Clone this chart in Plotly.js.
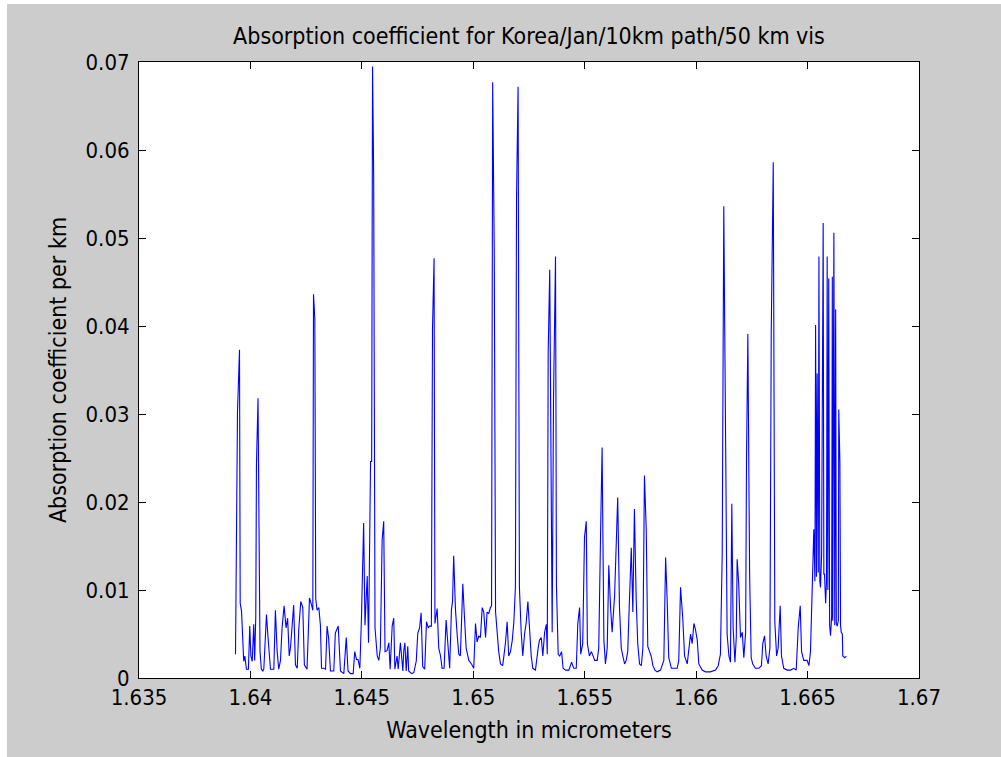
<!DOCTYPE html>
<html>
<head>
<meta charset="utf-8">
<script src="https://cdn.plot.ly/plotly-3.0.1.min.js"></script>
<style>
  html, body { margin: 0; padding: 0; background: #cccccc; width: 1001px; height: 757px; overflow: hidden; }
  #edgeLeft { position: absolute; left: 0; top: 0; width: 7px; height: 757px; background: #ffffff; }
  #edgeTop { position: absolute; left: 0; top: 0; width: 1001px; height: 4px; background: #ffffff; }
  #chart { position: absolute; left: 7px; top: 4px; width: 994px; height: 753px; }
</style>
</head>
<body>
<div id="edgeLeft"></div>
<div id="edgeTop"></div>
<div id="chart"></div>
<script>
// Wavelength (micrometers)
var wavelength = [
1.63933,1.63936,1.63942,1.63951,1.63954,1.63960,1.63964,1.63970,1.63975,1.63982,
1.63991,1.63997,1.64002,1.64008,1.64015,1.64019,1.64024,1.64027,1.64034,1.64038,
1.64043,1.64049,1.64056,1.64060,1.64072,1.64079,1.64090,1.64105,1.64112,1.64120,
1.64127,1.64135,1.64142,1.64151,1.64160,1.64167,1.64174,1.64180,1.64187,1.64194,
1.64202,1.64210,1.64217,1.64226,1.64235,1.64242,1.64254,1.64265,1.64274,1.64280,
1.64283,1.64289,1.64293,1.64299,1.64307,1.64314,1.64319,1.64329,1.64337,1.64344,
1.64351,1.64359,1.64374,1.64381,1.64394,1.64404,1.64419,1.64430,1.64438,1.64449,
1.64461,1.64468,1.64476,1.64483,1.64491,1.64498,1.64508,1.64514,1.64524,1.64530,
1.64539,1.64544,1.64548,1.64553,1.64559,1.64569,1.64576,1.64583,1.64591,1.64598,
1.64604,1.64613,1.64621,1.64627,1.64636,1.64643,1.64648,1.64658,1.64663,1.64673,
1.64684,1.64688,1.64693,1.64699,1.64706,1.64710,1.64723,1.64733,1.64744,1.64751,
1.64759,1.64766,1.64773,1.64782,1.64790,1.64798,1.64803,1.64812,1.64817,1.64824,
1.64828,1.64838,1.64845,1.64853,1.64860,1.64869,1.64878,1.64886,1.64894,1.64902,
1.64907,1.64912,1.64920,1.64928,1.64935,1.64942,1.64953,1.64960,1.64968,1.64980,
1.64992,1.65002,1.65010,1.65017,1.65025,1.65032,1.65040,1.65047,1.65055,1.65062,
1.65069,1.65077,1.65082,1.65087,1.65094,1.65100,1.65107,1.65114,1.65122,1.65132,
1.65144,1.65152,1.65159,1.65167,1.65175,1.65182,1.65189,1.65194,1.65201,1.65207,
1.65215,1.65222,1.65230,1.65237,1.65245,1.65252,1.65260,1.65267,1.65279,1.65291,
1.65297,1.65305,1.65312,1.65320,1.65328,1.65332,1.65336,1.65343,1.65351,1.65354,
1.65360,1.65369,1.65373,1.65381,1.65388,1.65396,1.65403,1.65414,1.65429,1.65441,
1.65451,1.65462,1.65469,1.65477,1.65482,1.65491,1.65499,1.65507,1.65512,1.65521,
1.65530,1.65538,1.65545,1.65556,1.65563,1.65571,1.65578,1.65586,1.65593,1.65601,
1.65608,1.65616,1.65623,1.65634,1.65641,1.65648,1.65656,1.65664,1.65671,1.65679,
1.65686,1.65693,1.65701,1.65709,1.65716,1.65723,1.65731,1.65738,1.65746,1.65754,
1.65761,1.65768,1.65776,1.65783,1.65791,1.65798,1.65806,1.65815,1.65825,1.65840,
1.65855,1.65863,1.65870,1.65877,1.65889,1.65900,1.65915,1.65922,1.65930,1.65940,
1.65948,1.65960,1.65967,1.65975,1.65982,1.65990,1.65997,1.66005,1.66012,1.66027,
1.66042,1.66064,1.66087,1.66099,1.66109,1.66117,1.66124,1.66132,1.66139,1.66147,
1.66154,1.66160,1.66166,1.66174,1.66180,1.66184,1.66191,1.66199,1.66207,1.66214,
1.66222,1.66226,1.66232,1.66240,1.66247,1.66254,1.66266,1.66281,1.66293,1.66299,
1.66307,1.66314,1.66323,1.66331,1.66337,1.66346,1.66353,1.66361,1.66368,1.66377,
1.66383,1.66393,1.66409,1.66424,1.66438,1.66449,1.66458,1.66467,1.66473,1.66483,
1.66498,1.66506,1.66513,1.66521,1.66528,1.66533,1.66536,1.66540,1.66543,1.66548,
1.66551,1.66555,1.66558,1.66563,1.66566,1.66570,1.66573,1.66576,1.66581,1.66585,
1.66588,1.66591,1.66595,1.66599,1.66603,1.66608,1.66611,1.66613,1.66618,1.66622,
1.66626,1.66629,1.66633,1.66638,1.66640,1.66645,1.66648,1.66651,1.66656,1.66658,
1.66667,1.66674
];
// Absorption coefficient (per km)
var absorption = [
0.0027,0.0096,0.0303,0.0373,0.0085,0.0076,0.0046,0.0019,0.0025,0.0010,
0.0010,0.0059,0.0025,0.0019,0.0061,0.0020,0.0070,0.0242,0.0318,0.0155,
0.0030,0.0010,0.0008,0.0010,0.0072,0.0046,0.0010,0.0010,0.0077,0.0030,
0.0010,0.0020,0.0057,0.0082,0.0057,0.0068,0.0025,0.0035,0.0060,0.0083,
0.0015,0.0011,0.0056,0.0087,0.0080,0.0015,0.0010,0.0091,0.0083,0.0077,
0.0436,0.0408,0.0090,0.0077,0.0080,0.0060,0.0011,0.0011,0.0010,0.0059,
0.0045,0.0008,0.0008,0.0051,0.0059,0.0008,0.0005,0.0046,0.0008,0.0005,
0.0005,0.0030,0.0021,0.0021,0.0011,0.0066,0.0176,0.0060,0.0116,0.0040,
0.0246,0.0246,0.0695,0.0572,0.0057,0.0025,0.0020,0.0034,0.0157,0.0178,
0.0030,0.0031,0.0040,0.0010,0.0059,0.0068,0.0010,0.0025,0.0010,0.0040,
0.0008,0.0031,0.0040,0.0008,0.0036,0.0008,0.0005,0.0006,0.0019,0.0051,
0.0057,0.0074,0.0013,0.0010,0.0064,0.0057,0.0059,0.0059,0.0397,0.0477,
0.0062,0.0079,0.0034,0.0025,0.0011,0.0011,0.0066,0.0040,0.0011,0.0078,
0.0087,0.0139,0.0078,0.0048,0.0027,0.0025,0.0107,0.0071,0.0034,0.0020,
0.0016,0.0011,0.0062,0.0041,0.0048,0.0046,0.0080,0.0075,0.0046,0.0075,
0.0073,0.0080,0.0082,0.0677,0.0488,0.0075,0.0052,0.0030,0.0016,0.0014,
0.0039,0.0064,0.0025,0.0030,0.0043,0.0064,0.0103,0.0545,0.0672,0.0103,
0.0052,0.0025,0.0050,0.0062,0.0087,0.0052,0.0025,0.0011,0.0009,0.0034,
0.0043,0.0046,0.0025,0.0052,0.0061,0.0027,0.0369,0.0464,0.0207,0.0052,
0.0317,0.0479,0.0107,0.0027,0.0025,0.0030,0.0011,0.0009,0.0009,0.0018,
0.0011,0.0011,0.0062,0.0080,0.0027,0.0039,0.0160,0.0178,0.0039,0.0025,
0.0030,0.0025,0.0020,0.0020,0.0034,0.0162,0.0262,0.0043,0.0016,0.0034,
0.0128,0.0080,0.0052,0.0093,0.0139,0.0205,0.0080,0.0034,0.0025,0.0016,
0.0020,0.0030,0.0091,0.0148,0.0075,0.0192,0.0089,0.0039,0.0016,0.0014,
0.0034,0.0230,0.0169,0.0036,0.0030,0.0025,0.0014,0.0009,0.0007,0.0009,
0.0020,0.0137,0.0089,0.0023,0.0011,0.0011,0.0011,0.0020,0.0103,0.0068,
0.0025,0.0016,0.0034,0.0050,0.0039,0.0062,0.0055,0.0043,0.0016,0.0009,
0.0007,0.0007,0.0009,0.0014,0.0027,0.0141,0.0536,0.0312,0.0050,0.0025,
0.0018,0.0198,0.0057,0.0018,0.0046,0.0135,0.0107,0.0046,0.0052,0.0023,
0.0052,0.0249,0.0391,0.0116,0.0023,0.0016,0.0011,0.0011,0.0014,0.0039,
0.0048,0.0025,0.0016,0.0034,0.0394,0.0586,0.0064,0.0025,0.0034,0.0082,
0.0025,0.0011,0.0009,0.0009,0.0011,0.0009,0.0057,0.0082,0.0030,0.0020,
0.0020,0.0014,0.0030,0.0103,0.0169,0.0110,0.0401,0.0115,0.0346,0.0120,
0.0479,0.0110,0.0103,0.0140,0.0360,0.0517,0.0118,0.0118,0.0085,0.0110,
0.0479,0.0100,0.0454,0.0060,0.0048,0.0070,0.0456,0.0065,0.0506,0.0060,
0.0419,0.0062,0.0059,0.0065,0.0305,0.0246,0.0060,0.0052,0.0050,0.0025,
0.0023,0.0025
];
var xTickVals = [1.635, 1.64, 1.645, 1.65, 1.655, 1.66, 1.665, 1.67];
var xTickLabels = ['1.635', '1.64', '1.645', '1.65', '1.655', '1.66', '1.665', '1.67'];
var yTickVals = [0, 0.01, 0.02, 0.03, 0.04, 0.05, 0.06, 0.07];
var yTickLabels = ['0', '0.01', '0.02', '0.03', '0.04', '0.05', '0.06', '0.07'];

var FONT = '"DejaVu Sans Condensed", "Liberation Sans", Arial, sans-serif';

var trace = {
  x: wavelength,
  y: absorption,
  type: 'scatter',
  mode: 'lines',
  line: { color: '#0000ff', width: 1.1 },
  hoverinfo: 'x+y'
};

var axisCommon = {
  showline: true, linecolor: '#000000', linewidth: 1, mirror: 'ticks',
  ticks: 'inside', ticklen: 7, tickcolor: '#000000', tickwidth: 1,
  showgrid: false, zeroline: false,
  tickfont: { family: FONT, size: 22, color: '#000000' }
};

var layout = {
  width: 994, height: 753,
  paper_bgcolor: '#cccccc', plot_bgcolor: '#ffffff',
  margin: { l: 132, r: 82, t: 58, b: 79, pad: 0 },
  showlegend: false,
  title: {
    text: 'Absorption coefficient for Korea/Jan/10km path/50 km vis',
    font: { family: FONT, size: 23, color: '#000000' },
    x: 0.5, xref: 'paper', xanchor: 'center',
    y: 0.958, yref: 'container', yanchor: 'middle'
  },
  xaxis: Object.assign({}, axisCommon, {
    range: [1.635, 1.67], tickmode: 'array', tickvals: xTickVals, ticktext: xTickLabels,
    ticklabelstandoff: 0,
    title: { text: 'Wavelength in micrometers', font: { family: FONT, size: 23, color: '#000000' }, standoff: 12 }
  }),
  yaxis: Object.assign({}, axisCommon, {
    range: [0, 0.07], tickmode: 'array', tickvals: yTickVals, ticktext: yTickLabels,
    ticklabelstandoff: 4,
    title: { text: 'Absorption coefficient per km', font: { family: FONT, size: 23, color: '#000000' }, standoff: 12 }
  })
};

Plotly.newPlot('chart', [trace], layout, { displayModeBar: false });
</script>
</body>
</html>
